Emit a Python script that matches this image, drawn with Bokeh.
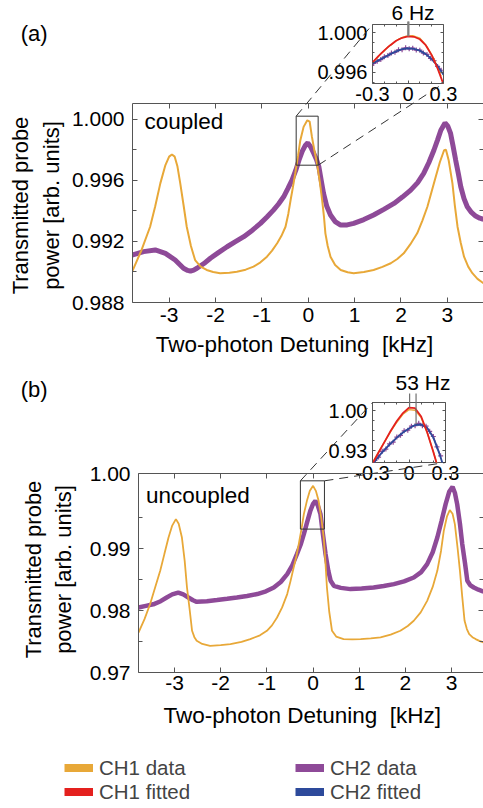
import math
from bokeh.plotting import figure
from bokeh.models import (Range1d, LinearAxis, FixedTicker, PrintfTickFormatter,
                          CustomJSTickFormatter, Label, Arrow, Legend, LegendItem)
from bokeh.layouts import column
from bokeh.embed import file_html
from bokeh.resources import INLINE

FONT = "Liberation Sans"
ORANGE = "#E8A838"
PURPLE = "#8E4A98"
RED = "#E4201E"
BLUE = "#2D4A9B"
AXC = "#555555"

# ---------------- data: panel (a) coupled ----------------
A_X_CH1 = [-3.80, -3.60, -3.41, -3.30, -3.19, -3.08, -3.00, -2.94, -2.88, -2.82, -2.76, -2.69,
           -2.62, -2.53, -2.44, -2.32, -2.19, -2.05, -1.90, -1.70, -1.54, -1.35, -1.18, -1.03,
           -0.89, -0.78, -0.67, -0.58, -0.49, -0.43, -0.38, -0.33, -0.28, -0.22, -0.17, -0.10,
           -0.02, 0.03, 0.08, 0.13, 0.19, 0.25, 0.30, 0.34, 0.37, 0.42, 0.48, 0.58, 0.70, 0.85,
           0.98, 1.20, 1.41, 1.60, 1.78, 1.92, 2.06, 2.20, 2.35, 2.46, 2.57, 2.66, 2.75, 2.84,
           2.93, 2.97, 3.03, 3.11, 3.16, 3.22, 3.29, 3.36, 3.45, 3.54, 3.65, 3.78]
A_CH1 = [0.99000, 0.99140, 0.99296, 0.99430, 0.99580, 0.99700, 0.99755, 0.99769, 0.99755, 0.99690,
         0.99580, 0.99440, 0.99296, 0.99170, 0.99078, 0.99035, 0.99013, 0.99000, 0.98992, 0.98995,
         0.99002, 0.99015, 0.99035, 0.99063, 0.99100, 0.99140, 0.99188, 0.99235, 0.99296, 0.99380,
         0.99471, 0.99555, 0.99645, 0.99760, 0.99863, 0.99950, 0.99993, 0.99985, 0.99884, 0.99800,
         0.99710, 0.99590, 0.99471, 0.99360, 0.99253, 0.99170, 0.99100, 0.99045, 0.99013, 0.98998,
         0.98992, 0.99000, 0.99013, 0.99033, 0.99057, 0.99085, 0.99122, 0.99180, 0.99253, 0.99335,
         0.99427, 0.99525, 0.99623, 0.99720, 0.99797, 0.99800, 0.99730, 0.99580, 0.99440, 0.99296,
         0.99190, 0.99100, 0.99035, 0.98992, 0.98955, 0.98926]
A_X_CH2 = [-3.80, -3.55, -3.30, -3.08, -2.87, -2.69, -2.60, -2.54, -2.47, -2.40, -2.25, -2.11,
           -1.93, -1.75, -1.57, -1.39, -1.21, -1.03, -0.89, -0.75, -0.64, -0.53, -0.44, -0.35,
           -0.27, -0.20, -0.13, -0.06, -0.01, 0.05, 0.12, 0.18, 0.23, 0.28, 0.33, 0.40, 0.48,
           0.58, 0.70, 0.84, 0.98, 1.20, 1.41, 1.63, 1.85, 2.03, 2.21, 2.36, 2.49, 2.60, 2.71,
           2.79, 2.86, 2.95, 3.01, 3.07, 3.12, 3.18, 3.24, 3.29, 3.36, 3.43, 3.52, 3.61, 3.70, 3.78]
A_CH2 = [0.99111, 0.99133, 0.99144, 0.99122, 0.99078, 0.99024, 0.99010, 0.99005, 0.99012, 0.99024,
         0.99055, 0.99090, 0.99128, 0.99165, 0.99198, 0.99231, 0.99272, 0.99318, 0.99360, 0.99405,
         0.99445, 0.99492, 0.99545, 0.99601, 0.99665, 0.99732, 0.99790, 0.99830, 0.99845, 0.99820,
         0.99776, 0.99735, 0.99688, 0.99600, 0.99514, 0.99430, 0.99373, 0.99330, 0.99307, 0.99308,
         0.99318, 0.99343, 0.99373, 0.99410, 0.99449, 0.99490, 0.99536, 0.99585, 0.99645, 0.99715,
         0.99797, 0.99865, 0.99928, 0.99976, 0.99955, 0.99907, 0.99830, 0.99732, 0.99640, 0.99558,
         0.99480, 0.99427, 0.99390, 0.99366, 0.99352, 0.99344]

# inset (a)
IA_X_FIT = [-0.30, -0.25, -0.20, -0.15, -0.10, -0.05, 0.00, 0.05, 0.10, 0.15, 0.20, 0.25, 0.30]
IA_CH1_FIT = [0.99700, 0.99765, 0.99822, 0.99875, 0.99920, 0.99950, 0.99965, 0.99960, 0.99935,
              0.99875, 0.99775, 0.99640, 0.99480]
IA_CH2_FIT = [0.99690, 0.99722, 0.99752, 0.99785, 0.99813, 0.99835, 0.99844, 0.99838, 0.99820,
              0.99785, 0.99736, 0.99665, 0.99577]
IA_X_DATA = [-0.29, -0.26, -0.23, -0.20, -0.17, -0.14, -0.11, -0.08, -0.05, -0.02, 0.01, 0.04,
             0.07, 0.10, 0.13, 0.16, 0.19, 0.22, 0.25, 0.28]
IA_CH1_DATA = [0.99712, 0.99745, 0.99790, 0.99818, 0.99858, 0.99880, 0.99912, 0.99935, 0.99950,
               0.99965, 0.99968, 0.99972, 0.99958, 0.99945, 0.99905, 0.99860, 0.99800, 0.99735,
               0.99650, 0.99560]
IA_CH2_DATA = [0.99690, 0.99712, 0.99730, 0.99758, 0.99770, 0.99795, 0.99803, 0.99828, 0.99830,
               0.99848, 0.99838, 0.99845, 0.99826, 0.99825, 0.99795, 0.99782, 0.99742, 0.99720,
               0.99660, 0.99622]
IA_PEAKS = [0.000, 0.006]          # kHz, "6 Hz"
IA_PEAK_TOP = [0.99965, 0.99965]

# ---------------- data: panel (b) uncoupled ----------------
B_X_CH1 = [-3.78, -3.65, -3.53, -3.42, -3.31, -3.22, -3.13, -3.05, -2.97, -2.91, -2.84, -2.78,
           -2.73, -2.67, -2.62, -2.57, -2.52, -2.40, -2.23, -2.00, -1.79, -1.55, -1.36, -1.15,
           -1.00, -0.89, -0.78, -0.67, -0.56, -0.49, -0.42, -0.36, -0.31, -0.25, -0.20, -0.13,
           -0.07, 0.00, 0.06, 0.12, 0.18, 0.23, 0.27, 0.30, 0.35, 0.41, 0.50, 0.66, 0.85, 1.03,
           1.25, 1.46, 1.68, 1.89, 2.05, 2.18, 2.33, 2.47, 2.59, 2.69, 2.77, 2.83, 2.90, 2.96,
           3.02, 3.07, 3.13, 3.18, 3.23, 3.28, 3.33, 3.38, 3.45, 3.52, 3.60, 3.69]
B_CH1 = [0.97645, 0.97860, 0.98100, 0.98370, 0.98640, 0.98910, 0.99177, 0.99370, 0.99474, 0.99400,
         0.99177, 0.98800, 0.98371, 0.98000, 0.97673, 0.97570, 0.97511, 0.97460, 0.97430, 0.97440,
         0.97458, 0.97495, 0.97539, 0.97600, 0.97673, 0.97760, 0.97887, 0.98050, 0.98265, 0.98470,
         0.98694, 0.98880, 0.99071, 0.99320, 0.99555, 0.99780, 0.99931, 1.00011, 0.99930, 0.99769,
         0.99480, 0.99177, 0.98750, 0.98371, 0.97980, 0.97673, 0.97580, 0.97539, 0.97535, 0.97539,
         0.97550, 0.97565, 0.97610, 0.97673, 0.97750, 0.97834, 0.97970, 0.98156, 0.98380, 0.98640,
         0.98960, 0.99285, 0.99520, 0.99619, 0.99560, 0.99394, 0.99000, 0.98640, 0.98220, 0.97834,
         0.97700, 0.97619, 0.97570, 0.97539, 0.97510, 0.97484]
B_X_CH2 = [-3.78, -3.62, -3.46, -3.30, -3.17, -3.05, -2.92, -2.81, -2.70, -2.60, -2.52, -2.30,
           -2.08, -1.86, -1.65, -1.43, -1.21, -1.02, -0.85, -0.70, -0.56, -0.45, -0.35, -0.27,
           -0.20, -0.13, -0.06, 0.00, 0.05, 0.10, 0.16, 0.21, 0.27, 0.33, 0.38, 0.45, 0.60, 0.81,
           1.05, 1.31, 1.53, 1.75, 1.97, 2.18, 2.34, 2.47, 2.59, 2.69, 2.78, 2.87, 2.95, 3.02,
           3.07, 3.12, 3.18, 3.23, 3.29, 3.34, 3.40, 3.48, 3.58, 3.69]
B_CH2 = [0.98048, 0.98075, 0.98100, 0.98150, 0.98210, 0.98260, 0.98290, 0.98260, 0.98210, 0.98165,
         0.98140, 0.98150, 0.98168, 0.98188, 0.98210, 0.98235, 0.98265, 0.98310, 0.98371, 0.98460,
         0.98587, 0.98730, 0.98910, 0.99060, 0.99232, 0.99420, 0.99608, 0.99720, 0.99769, 0.99700,
         0.99555, 0.99250, 0.98910, 0.98640, 0.98479, 0.98398, 0.98365, 0.98345, 0.98355, 0.98371,
         0.98395, 0.98426, 0.98470, 0.98532, 0.98620, 0.98748, 0.98940, 0.99177, 0.99440, 0.99716,
         0.99920, 0.99995, 0.99900, 0.99716, 0.99400, 0.99071, 0.98760, 0.98479, 0.98410, 0.98371,
         0.98335, 0.98306]

# inset (b)
IB_X_CH1_FIT = [-0.30, -0.25, -0.20, -0.15, -0.10, -0.05, 0.00, 0.05, 0.10, 0.15, 0.20, 0.23]
IB_CH1_FIT = [0.908, 0.927, 0.946, 0.965, 0.982, 0.996, 1.0055, 1.0045, 0.990, 0.962, 0.928, 0.906]
IB_CH1_DATA = [0.909, 0.928, 0.946, 0.964, 0.980, 0.994, 1.002, 1.001, 0.988, 0.961, 0.929, 0.907]
IB_X_CH2_FIT = [-0.30, -0.25, -0.20, -0.15, -0.10, -0.05, 0.00, 0.05, 0.10, 0.15, 0.20, 0.25, 0.28]
IB_CH2_FIT = [0.906, 0.920, 0.932, 0.943, 0.953, 0.962, 0.969, 0.975, 0.976, 0.970, 0.953, 0.925, 0.905]
IB_X_CH2_DATA = [-0.28, -0.25, -0.22, -0.19, -0.16, -0.13, -0.10, -0.07, -0.04, -0.01, 0.02, 0.05,
                 0.08, 0.11, 0.14, 0.17, 0.20, 0.23, 0.26]
IB_CH2_DATA = [0.913, 0.919, 0.929, 0.933, 0.942, 0.945, 0.954, 0.957, 0.965, 0.966, 0.973, 0.974,
               0.978, 0.974, 0.973, 0.964, 0.955, 0.937, 0.921]
IB_PEAKS = [0.005, 0.058]          # kHz, "53 Hz"
IB_PEAK_TOP = [1.0055, 0.9767]

# zoom boxes drawn in main panels (kHz, power)
A_BOX = [-0.26, 0.214, 0.99699, 1.0002]
B_BOX = [-0.275, 0.246, 0.99313, 1.00092]

# texts
X_LABEL = "Two-photon Detuning\u00a0 [kHz]"
Y_LABEL = ["Transmitted probe", "power [arb. units]"]
LEG_LABELS = [["CH1 data", "CH1 fitted"], ["CH2 data", "CH2 fitted"]]

# ---------------- layout geometry (page pixels, page origin 0,0) ----------------
W = 483
H = 808
gA_in = dict(fx=372, fy=24, fw=71, fh=59, x0=-0.3, x1=0.3, y0=0.99488, y1=1.00084)
gA = dict(fx=132, fy=103, fw=351, fh=199, x0=-3.79, x1=3.78, y0=0.988, y1=1.00103)
gB_in = dict(fx=372, fy=402, fw=73, fh=60, x0=-0.3, x1=0.3, y0=0.9095, y1=1.0145)
gB = dict(fx=138, fy=473, fw=345, fh=199, x0=-3.78, x1=3.69, y0=0.97, y1=1.0021)


def to_page(g, x, y):
    px = g["fx"] + (x - g["x0"]) / (g["x1"] - g["x0"]) * g["fw"]
    py = g["fy"] + (g["y1"] - y) / (g["y1"] - g["y0"]) * g["fh"]
    return px, py


def make_fig(g, top_page, height, margin_top=0):
    left = g["fx"]
    top = g["fy"] - top_page
    right = W - left - g["fw"]
    bottom = height - top - g["fh"]
    p = figure(width=W, height=height,
               x_range=Range1d(g["x0"], g["x1"]), y_range=Range1d(g["y0"], g["y1"]),
               min_border_left=left, min_border_right=right,
               min_border_top=top, min_border_bottom=bottom,
               x_axis_type=None, y_axis_type=None,
               output_backend="svg", toolbar_location=None,
               frame_align=False,
               margin=(margin_top, 0, 0, 0))
    return p


def add_axis(p, side, ticks, minor, fmt, size, standoff, labels=True, line=True,
             tin=5, minin=4):
    ax = LinearAxis(ticker=FixedTicker(ticks=ticks, minor_ticks=minor))
    if labels:
        ax.formatter = fmt
        ax.major_label_text_font = FONT
        ax.major_label_text_font_size = size
        ax.major_label_text_color = "black"
        ax.major_label_standoff = standoff
    else:
        ax.formatter = CustomJSTickFormatter(code="return ''")
        ax.major_label_text_font_size = "0px"
        ax.major_label_standoff = 0
    ax.major_tick_in = tin
    ax.major_tick_out = 0
    ax.minor_tick_in = minin
    ax.minor_tick_out = 0
    ax.major_tick_line_color = AXC
    ax.minor_tick_line_color = AXC
    ax.axis_line_color = AXC if line else None
    p.add_layout(ax, side)


def transparent(p):
    p.outline_line_color = None
    p.border_fill_color = None
    p.background_fill_color = None


def style_inset(p):
    p.outline_line_color = AXC
    p.outline_line_width = 1


xfmt_main = CustomJSTickFormatter(code="return tick.toFixed(0)")
xfmt_in = CustomJSTickFormatter(code="return Math.abs(tick) < 1e-9 ? '0' : tick.toFixed(1)")

# overlay figure (page-pixel coordinates) for texts / connectors outside the frames
ov = figure(width=W, height=H, x_range=Range1d(0, W), y_range=Range1d(H, 0),
            min_border=0, x_axis_type=None, y_axis_type=None,
            output_backend="svg", toolbar_location=None, frame_align=False,
            margin=(-H, 0, 0, 0))
transparent(ov)


def ov_text(px, py, text, size, align="left", angle=0.0):
    # (px, py): position of the text's vertical middle
    ov.add_layout(Label(x=px, y=py, text=text, text_font=FONT, text_font_size=size,
                        text_align=align, text_baseline="middle", angle=angle,
                        text_color="black"))


def ov_seg(p0, p1, color="#333333", width=1.0, dash="9 6"):
    ov.add_layout(Arrow(end=None, x_start=p0[0], y_start=p0[1], x_end=p1[0], y_end=p1[1],
                        line_color=color, line_width=width, line_dash=dash))


# ================= panel (a) =================
insA = make_fig(gA_in, 0, 120)
style_inset(insA)
add_axis(insA, "below", [-0.3, 0.0, 0.3], [-0.2, -0.1, 0.1, 0.2], xfmt_in, "20px", 3, tin=3, minin=2, line=False)
add_axis(insA, "left", [0.996, 1.000], [0.995, 0.997, 0.998, 0.999], PrintfTickFormatter(format="%.3f"),
         "20px", 5, tin=3, minin=2, line=False)
add_axis(insA, "above", [-0.3, 0.0, 0.3], [-0.2, -0.1, 0.1, 0.2], None, "0px", 0, labels=False, tin=3, minin=2, line=False)
add_axis(insA, "right", [0.996, 1.000], [0.995, 0.997, 0.998, 0.999], None, "0px", 0, labels=False, tin=3, minin=2, line=False)
insA.line(IA_X_DATA, IA_CH2_DATA, line_color=PURPLE, line_width=1.3)
insA.scatter(IA_X_DATA, IA_CH2_DATA, marker="cross", size=5, line_color=PURPLE, line_width=1.2)
insA.line(IA_X_DATA, IA_CH1_DATA, line_color=ORANGE, line_width=1.4)
insA.line(IA_X_FIT, IA_CH2_FIT, line_color=BLUE, line_width=1.8)
insA.line(IA_X_FIT, IA_CH1_FIT, line_color=RED, line_width=1.8)

mainA = make_fig(gA, 0, 362, margin_top=-120)
transparent(mainA)
add_axis(mainA, "below", [-3, -2, -1, 0, 1, 2, 3], [], xfmt_main, "21px", 5)
add_axis(mainA, "left", [0.988, 0.992, 0.996, 1.000], [0.990, 0.994, 0.998],
         PrintfTickFormatter(format="%.3f"), "21px", 8)
add_axis(mainA, "above", [-3, -2, -1, 0, 1, 2, 3], [], None, "0px", 0, labels=False)
add_axis(mainA, "right", [0.988, 0.992, 0.996, 1.000], [0.990, 0.994, 0.998], None, "0px", 0,
         labels=False, line=False)
mainA.line(A_X_CH2, A_CH2, line_color=PURPLE, line_width=5)
mainA.line(A_X_CH1, A_CH1, line_color=ORANGE, line_width=2)
mainA.quad(left=[A_BOX[0]], right=[A_BOX[1]], bottom=[A_BOX[2]], top=[A_BOX[3]],
           fill_color=None, line_color="#333333", line_width=1)

# connectors / texts of (a) on the overlay
ov_seg(to_page(gA, A_BOX[0], A_BOX[3]), (gA_in["fx"], gA_in["fy"]))
ov_seg(to_page(gA, A_BOX[1], A_BOX[2]), (gA_in["fx"] + gA_in["fw"], gA_in["fy"] + gA_in["fh"]))
for xp, yp in zip(IA_PEAKS, IA_PEAK_TOP):
    bx, by = to_page(gA_in, xp, yp)
    ov_seg((bx, 21), (bx, by), color="#808080", width=1.6, dash="solid")
ov_text(412.5, 11.7, "6 Hz", "21px", align="center")
ov_text(20.2, 32.7, "(a)", "22px")
ov_text(144, 120.5, "coupled", "22.5px")
ov_text(294, 344, X_LABEL, "22.5px", align="center")
ov_text(19.9, 205, Y_LABEL[0], "22px", align="center", angle=math.pi / 2)
ov_text(51.4, 205, Y_LABEL[1], "22px", align="center", angle=math.pi / 2)

# ================= panel (b) =================
insB = make_fig(gB_in, 362, 140)
style_inset(insB)
add_axis(insB, "below", [-0.3, 0.0, 0.3], [-0.2, -0.1, 0.1, 0.2], xfmt_in, "20px", 3, tin=3, minin=2, line=False)
add_axis(insB, "left", [0.93, 1.00], [0.9475, 0.965, 0.9825], PrintfTickFormatter(format="%.2f"),
         "20px", 5, tin=3, minin=2, line=False)
add_axis(insB, "above", [-0.3, 0.0, 0.3], [-0.2, -0.1, 0.1, 0.2], None, "0px", 0, labels=False, tin=3, minin=2, line=False)
add_axis(insB, "right", [0.93, 1.00], [0.9475, 0.965, 0.9825], None, "0px", 0, labels=False, tin=3, minin=2, line=False)
insB.line(IB_X_CH2_DATA, IB_CH2_DATA, line_color=PURPLE, line_width=1.3)
insB.scatter(IB_X_CH2_DATA, IB_CH2_DATA, marker="cross", size=5, line_color=PURPLE, line_width=1.2)
insB.line(IB_X_CH1_FIT, IB_CH1_DATA, line_color=ORANGE, line_width=1.4)
insB.line(IB_X_CH2_FIT, IB_CH2_FIT, line_color=BLUE, line_width=1.8)
insB.line(IB_X_CH1_FIT, IB_CH1_FIT, line_color=RED, line_width=1.8)

mainB = make_fig(gB, 362, 368, margin_top=-140)
transparent(mainB)
add_axis(mainB, "below", [-3, -2, -1, 0, 1, 2, 3], [], xfmt_main, "21px", 3)
add_axis(mainB, "left", [0.97, 0.98, 0.99, 1.0021], [0.975, 0.985, 0.995],
         PrintfTickFormatter(format="%.2f"), "21px", 8)
add_axis(mainB, "above", [-3, -2, -1, 0, 1, 2, 3], [], None, "0px", 0, labels=False)
add_axis(mainB, "right", [0.97, 0.98, 0.99], [0.975, 0.985, 0.995], None, "0px", 0,
         labels=False, line=False)
mainB.line(B_X_CH2, B_CH2, line_color=PURPLE, line_width=4.5)
mainB.line(B_X_CH1, B_CH1, line_color=ORANGE, line_width=1.8)
mainB.quad(left=[B_BOX[0]], right=[B_BOX[1]], bottom=[B_BOX[2]], top=[B_BOX[3]],
           fill_color=None, line_color="#333333", line_width=1)

ov_seg(to_page(gB, B_BOX[0], B_BOX[3]), (gB_in["fx"], gB_in["fy"]))
ov_seg(to_page(gB, B_BOX[1], B_BOX[3]), (gB_in["fx"] + gB_in["fw"], gB_in["fy"] + gB_in["fh"]))
for xp, yp in zip(IB_PEAKS, IB_PEAK_TOP):
    bx, by = to_page(gB_in, xp, yp)
    ov_seg((bx, 393), (bx, by), color="#707070", width=1.2, dash="solid")
ov_text(422.5, 382.2, "53 Hz", "21px", align="center")
ov_text(20.2, 389.3, "(b)", "22px")
ov_text(145.5, 494.9, "uncoupled", "22.5px")
ov_text(301.7, 715, X_LABEL, "22.5px", align="center")
ov_text(33.2, 569, Y_LABEL[0], "22px", align="center", angle=math.pi / 2)
ov_text(63.2, 569, Y_LABEL[1], "22px", align="center", angle=math.pi / 2)

# ================= legend =================
LEG_COLORS = [[ORANGE, RED], [PURPLE, BLUE]]
LEG_SRC = [[(A_X_CH1, A_CH1), (IA_X_FIT, IA_CH1_FIT)], [(A_X_CH2, A_CH2), (IA_X_FIT, IA_CH2_FIT)]]
leg = figure(width=W, height=78, x_range=Range1d(0, 1), y_range=Range1d(10, 11),
             min_border=0, x_axis_type=None, y_axis_type=None,
             output_backend="svg", toolbar_location=None, frame_align=False)
transparent(leg)
for col, xloc in zip(range(2), [64, 295]):
    items = []
    for lab, colr, (xs, ys) in zip(LEG_LABELS[col], LEG_COLORS[col], LEG_SRC[col]):
        r = leg.line(xs, ys, line_color=colr, line_width=8, line_cap="butt")
        items.append(LegendItem(label=lab, renderers=[r]))
    lg = Legend(items=items, location=(xloc, 4.5), padding=0, margin=0, spacing=0,
                glyph_width=29, glyph_height=23, label_height=23, label_standoff=6,
                label_text_font=FONT, label_text_font_size="20.5px",
                border_line_color=None, background_fill_alpha=0)
    leg.add_layout(lg)

layout = column(insA, mainA, insB, mainB, leg, ov)
open("out.html", "w").write(file_html(layout, INLINE))
